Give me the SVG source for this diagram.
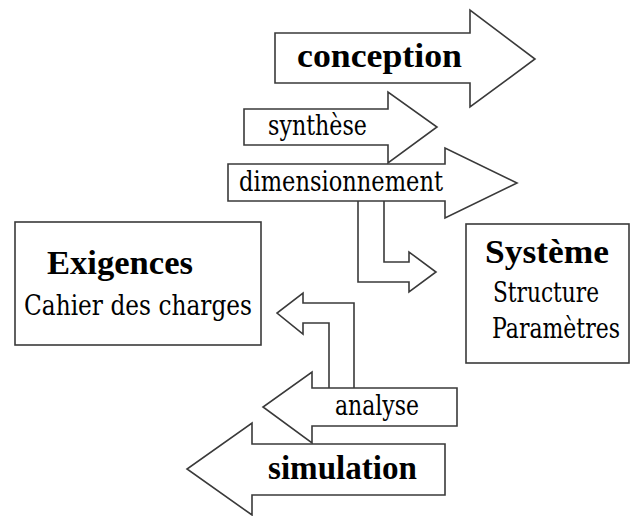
<svg xmlns="http://www.w3.org/2000/svg" width="631" height="516" viewBox="0 0 631 516">
  <style>
    .shape { fill: #ffffff; stroke: #3a3a3a; stroke-width: 1.6; stroke-linejoin: miter; }
    .reg { font-family: 'DejaVu Serif', 'Liberation Serif', serif; font-size: 27px; font-weight: normal; fill: #000000; }
    .bold { font-family: 'Liberation Serif', 'DejaVu Serif', serif; font-size: 34px; font-weight: bold; fill: #000000; }
  </style>

  <!-- design flow: arrows pointing right -->
  <g id="conception">
    <path class="shape" d="M275,33 H470 V10 L535,59 L470,107 V83 H275 Z"/>
    <text class="bold" x="297" y="67" textLength="165" lengthAdjust="spacingAndGlyphs">conception</text>
  </g>

  <g id="synthese">
    <path class="shape" d="M244,109 H388 V92 L437,127 L388,163 V145 H244 Z"/>
    <text class="reg" x="268" y="135" textLength="99" lengthAdjust="spacingAndGlyphs">synthèse</text>
  </g>

  <g id="connectors">
    <!-- bent arrow from sizing down to the system -->
    <path class="shape" d="M358,190 V282 H409 V292 L436,272 L409,252 V262 H384 V190 Z"/>
    <!-- bent arrow from analysis up to the requirements -->
    <path class="shape" d="M354,400 V303 H303 V293 L277,313 L303,334 V323 H329 V400 Z"/>
  </g>

  <g id="dimensionnement">
    <path class="shape" d="M228,164 H445 V148 L517,183 L445,218 V201 H228 Z"/>
    <text class="reg" x="239" y="191" textLength="204" lengthAdjust="spacingAndGlyphs">dimensionnement</text>
  </g>

  <!-- requirements box -->
  <g id="exigences">
    <rect class="shape" x="15" y="222" width="246" height="123"/>
    <text class="bold" x="47" y="274" textLength="146" lengthAdjust="spacingAndGlyphs">Exigences</text>
    <text class="reg" x="24" y="315" textLength="228" lengthAdjust="spacingAndGlyphs">Cahier des charges</text>
  </g>

  <!-- system box -->
  <g id="systeme">
    <rect class="shape" x="466" y="224" width="163" height="139"/>
    <text class="bold" x="485" y="263" textLength="124" lengthAdjust="spacingAndGlyphs">Système</text>
    <text class="reg" x="493" y="302" textLength="106" lengthAdjust="spacingAndGlyphs">Structure</text>
    <text class="reg" x="492" y="338" textLength="128" lengthAdjust="spacingAndGlyphs">Paramètres</text>
  </g>

  <!-- verification flow: arrows pointing left -->
  <g id="analyse">
    <path class="shape" d="M457,388 H312 V372 L263,407 L312,443 V426 H457 Z"/>
    <text class="reg" x="335" y="415" textLength="84" lengthAdjust="spacingAndGlyphs">analyse</text>
  </g>

  <g id="simulation">
    <path class="shape" d="M445,444 H252 V423 L187,469 L252,515 V495 H445 Z"/>
    <text class="bold" x="268" y="479" textLength="149" lengthAdjust="spacingAndGlyphs">simulation</text>
  </g>
</svg>
